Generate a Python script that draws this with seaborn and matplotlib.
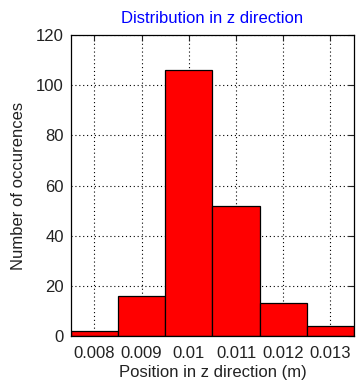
import numpy as np
import matplotlib
matplotlib.use("Agg")
import matplotlib.pyplot as plt
import seaborn as sns

# Histogram data: bin centres (m) and counts
bin_centers = [0.008, 0.009, 0.010, 0.011, 0.012, 0.013]
counts = [2, 16, 106, 52, 13, 4]
tick_labels = ["0.008", "0.009", "0.01", "0.011", "0.012", "0.013"]
y_ticks = [0, 20, 40, 60, 80, 100, 120]

sns.set_style("white")
plt.rcParams["font.family"] = ["Liberation Sans", "DejaVu Sans"]

width = 0.001
edges = [c - width / 2 for c in bin_centers] + [bin_centers[-1] + width / 2]

fig = plt.figure(figsize=(3.58, 3.85), dpi=100)
ax = fig.add_axes([0.198, 0.127, 0.791, 0.782])

sns.histplot(x=bin_centers, weights=counts, bins=edges, ax=ax,
             color="#ff0000", alpha=1.0, edgecolor="black", linewidth=0.9,
             zorder=3)

ax.set_xlim(edges[0], edges[-1])
ax.set_ylim(0, 120)
ax.set_xticks(bin_centers)
ax.set_xticklabels(tick_labels)
ax.set_yticks(y_ticks)

ax.grid(True, color="black", linestyle=(0, (1, 2.5)), linewidth=0.8, zorder=0)
ax.set_axisbelow(True)
for s in ax.spines.values():
    s.set_color("black")
    s.set_linewidth(0.9)
    s.set_zorder(5)

ax.tick_params(direction="in", length=4, width=0.8, labelsize=12,
               top=True, right=True, pad=5, colors="#222222")
ax.tick_params(axis="x", pad=7)

ax.set_xlabel("Position in z direction (m)", fontsize=12, labelpad=3,
              color="#222222")
ax.set_ylabel("Number of occurences", fontsize=12, labelpad=7,
              color="#222222")
ax.set_title("Distribution in z direction", fontsize=12, color="#0000ff", pad=9)

fig.savefig("out.png", dpi=100)
